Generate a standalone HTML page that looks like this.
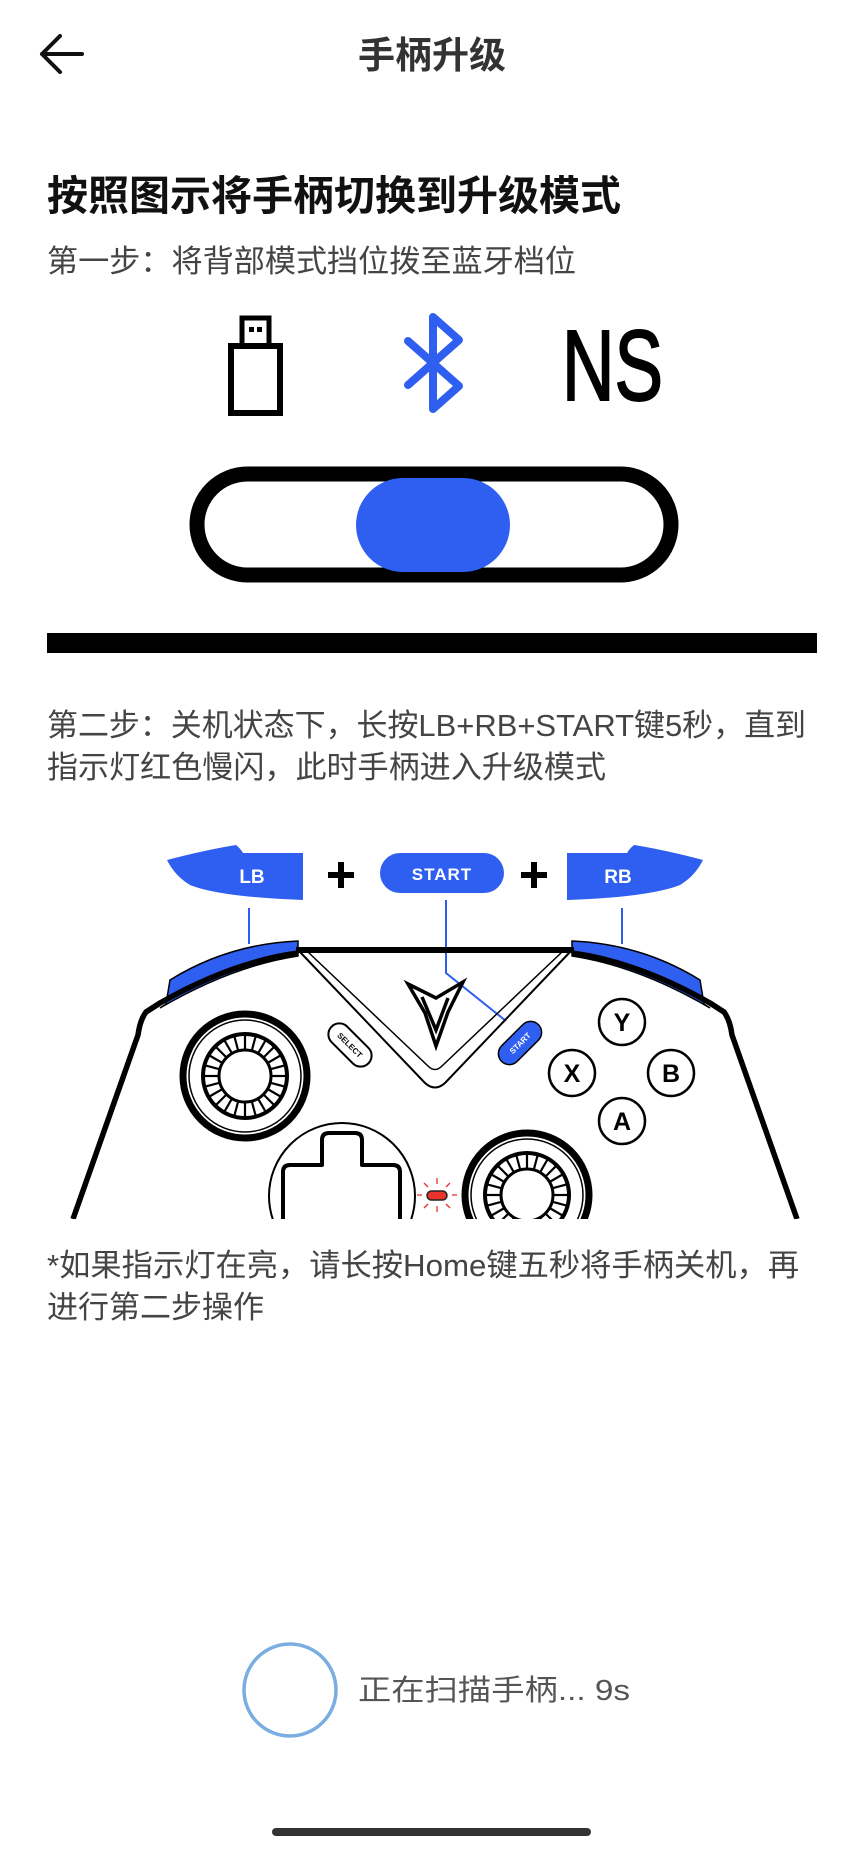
<!DOCTYPE html>
<html><head><meta charset="utf-8"><style>
html,body{margin:0;padding:0;background:#fff;width:864px;height:1850px;overflow:hidden}
svg{display:block}
text{font-family:"Liberation Sans","Noto Sans CJK SC",sans-serif}
</style></head><body>
<svg width="864" height="1850" viewBox="0 0 864 1850" xmlns="http://www.w3.org/2000/svg">
<defs>
<clipPath id="cl"><rect x="0" y="880" width="864" height="339"/></clipPath>
<g id="stick">
<circle r="62" fill="#fff" stroke="#000" stroke-width="7"/>
<circle r="56" fill="none" stroke="#000" stroke-width="1.5"/>
<circle r="42" fill="none" stroke="#000" stroke-width="4"/>
<circle r="26" fill="none" stroke="#000" stroke-width="3"/>
<g stroke="#000" stroke-width="2.2">
<line x1="0" y1="-26" x2="0" y2="-42"/><line x1="0" y1="-26" x2="0" y2="-42" transform="rotate(15)"/><line x1="0" y1="-26" x2="0" y2="-42" transform="rotate(30)"/><line x1="0" y1="-26" x2="0" y2="-42" transform="rotate(45)"/><line x1="0" y1="-26" x2="0" y2="-42" transform="rotate(60)"/><line x1="0" y1="-26" x2="0" y2="-42" transform="rotate(75)"/><line x1="0" y1="-26" x2="0" y2="-42" transform="rotate(90)"/><line x1="0" y1="-26" x2="0" y2="-42" transform="rotate(105)"/><line x1="0" y1="-26" x2="0" y2="-42" transform="rotate(120)"/><line x1="0" y1="-26" x2="0" y2="-42" transform="rotate(135)"/><line x1="0" y1="-26" x2="0" y2="-42" transform="rotate(150)"/><line x1="0" y1="-26" x2="0" y2="-42" transform="rotate(165)"/><line x1="0" y1="-26" x2="0" y2="-42" transform="rotate(180)"/><line x1="0" y1="-26" x2="0" y2="-42" transform="rotate(195)"/><line x1="0" y1="-26" x2="0" y2="-42" transform="rotate(210)"/><line x1="0" y1="-26" x2="0" y2="-42" transform="rotate(225)"/><line x1="0" y1="-26" x2="0" y2="-42" transform="rotate(240)"/><line x1="0" y1="-26" x2="0" y2="-42" transform="rotate(255)"/><line x1="0" y1="-26" x2="0" y2="-42" transform="rotate(270)"/><line x1="0" y1="-26" x2="0" y2="-42" transform="rotate(285)"/><line x1="0" y1="-26" x2="0" y2="-42" transform="rotate(300)"/><line x1="0" y1="-26" x2="0" y2="-42" transform="rotate(315)"/><line x1="0" y1="-26" x2="0" y2="-42" transform="rotate(330)"/><line x1="0" y1="-26" x2="0" y2="-42" transform="rotate(345)"/>
</g>
</g>
<g id="side">
<path d="M166,1004 L170,980 Q228,944 298,941 L298,956 Q232,966 160,1008 Z" fill="#2f5ff0" stroke="#000" stroke-width="1.5"/>
<path d="M298,953 Q232,962 160,1003 L146,1012 Q140,1020 138,1035 L73,1219" fill="none" stroke="#000" stroke-width="5.5" stroke-linejoin="round"/>
</g>
</defs>

<!-- header -->
<path d="M82,54 L42,54 M60,36 L42,54 L60,72" fill="none" stroke="#111" stroke-width="4" stroke-linecap="round" stroke-linejoin="round"/>
<text x="432" y="68" font-size="37" font-weight="bold" fill="#333" text-anchor="middle">手柄升级</text>

<text x="47" y="210" font-size="41" font-weight="bold" fill="#111">按照图示将手柄切换到升级模式</text>
<text x="47" y="272" font-size="31" fill="#444" textLength="529" lengthAdjust="spacingAndGlyphs">第一步：将背部模式挡位拨至蓝牙档位</text>

<!-- usb -->
<rect x="231" y="346" width="49" height="67" fill="none" stroke="#000" stroke-width="6"/>
<rect x="242" y="318" width="27" height="28" fill="none" stroke="#000" stroke-width="5"/>
<rect x="249" y="327" width="5" height="5" fill="#000"/><rect x="257" y="327" width="5" height="5" fill="#000"/>
<!-- bluetooth -->
<polyline points="408,341 459,386 433,409 433,317 459,340 408,385" fill="none" stroke="#2f5ff0" stroke-width="8" stroke-linecap="round" stroke-linejoin="round"/>
<!-- NS -->
<text x="562" y="400" font-size="100" fill="#000" stroke="#000" stroke-width="2" textLength="101" lengthAdjust="spacingAndGlyphs">NS</text>

<!-- switch -->
<rect x="197" y="474" width="474" height="101" rx="50.5" fill="#fff" stroke="#000" stroke-width="15"/>
<rect x="356" y="478" width="154" height="94" rx="47" fill="#2f5ff0"/>
<rect x="47" y="633" width="770" height="20" fill="#000"/>

<text x="47" y="736" font-size="31" fill="#444" textLength="759" lengthAdjust="spacingAndGlyphs">第二步：关机状态下，长按LB+RB+START键5秒，直到</text>
<text x="47" y="778" font-size="31" fill="#444" textLength="559" lengthAdjust="spacingAndGlyphs">指示灯红色慢闪，此时手柄进入升级模式</text>

<!-- top labels -->
<path d="M167,860 Q205,850 236,845 Q240,848 243,853 L303,853 L303,900 Q220,897 190,885 Q175,876 167,860 Z" fill="#2f5ff0"/>
<text x="252" y="883" font-size="19" font-weight="bold" fill="#fff" text-anchor="middle">LB</text>
<g transform="translate(870,0) scale(-1,1)">
<path d="M167,860 Q205,850 236,845 Q240,848 243,853 L303,853 L303,900 Q220,897 190,885 Q175,876 167,860 Z" fill="#2f5ff0"/>
</g>
<text x="618" y="883" font-size="19" font-weight="bold" fill="#fff" text-anchor="middle">RB</text>
<rect x="380" y="853" width="124" height="40" rx="20" fill="#2f5ff0"/>
<text x="442" y="880" font-size="17" font-weight="bold" fill="#fff" text-anchor="middle" letter-spacing="1">START</text>
<path d="M341,862 V888 M328,875 H354" stroke="#000" stroke-width="6"/>
<path d="M534,862 V888 M521,875 H547" stroke="#000" stroke-width="6"/>

<!-- connectors -->
<g stroke="#2f5ff0" stroke-width="2" fill="none">
<line x1="249" y1="908" x2="249" y2="944"/>
<line x1="622" y1="908" x2="622" y2="944"/>
<polyline points="446,900 446,973 506,1021"/>
</g>

<!-- controller -->
<g clip-path="url(#cl)">
<use href="#side"/>
<use href="#side" transform="translate(870,0) scale(-1,1)"/>
<line x1="296" y1="950" x2="574" y2="950" stroke="#000" stroke-width="6"/>
<path d="M300,952 L425,1083 Q435,1092 445,1083 L570,952" fill="none" stroke="#000" stroke-width="2"/>
<path d="M308,952 L428,1066 Q435,1073 442,1066 L562,952" fill="none" stroke="#000" stroke-width="1.5"/>
<!-- logo -->
<path d="M408,984 L436,998 L463,982 L448,1012 L436,1046 L425,1013 Z M422,997 L436,1030 L448,998" fill="none" stroke="#000" stroke-width="3.5" stroke-linejoin="miter"/>
<!-- select / start small -->
<g transform="translate(350,1045) rotate(45)">
<rect x="-26" y="-11" width="52" height="22" rx="11" fill="#fff" stroke="#000" stroke-width="2"/>
<text x="0" y="3" font-size="8" font-weight="bold" text-anchor="middle">SELECT</text>
</g>
<g transform="translate(520,1043) rotate(-45)">
<rect x="-26" y="-11" width="52" height="22" rx="11" fill="#2f5ff0" stroke="#000" stroke-width="1.5"/>
<text x="0" y="3" font-size="8" font-weight="bold" fill="#fff" text-anchor="middle">START</text>
</g>
<!-- face buttons -->
<g fill="#fff" stroke="#000" stroke-width="2.5">
<circle cx="622" cy="1022" r="23"/><circle cx="572" cy="1073" r="23"/><circle cx="671" cy="1073" r="23"/><circle cx="622" cy="1121" r="23"/>
</g>
<g font-size="25" font-weight="bold" text-anchor="middle" fill="#000">
<text x="622" y="1031">Y</text><text x="572" y="1082">X</text><text x="671" y="1082">B</text><text x="622" y="1130">A</text>
</g>
<use href="#stick" x="245" y="1076"/>
<circle cx="342" cy="1196" r="73" fill="#fff" stroke="#000" stroke-width="2"/>
<path d="M322,1140 Q322,1133 329,1133 L355,1133 Q362,1133 362,1140 L362,1165 L393,1165 Q400,1165 400,1172 L400,1218 Q400,1225 393,1225 L362,1225 L362,1260 L322,1260 L322,1225 L290,1225 Q283,1225 283,1218 L283,1172 Q283,1165 290,1165 L322,1165 Z" fill="none" stroke="#000" stroke-width="4" stroke-linejoin="round"/>
<use href="#stick" x="527" y="1195"/>
<!-- led -->
<rect x="427" y="1191" width="20" height="9" rx="4.5" fill="#e8322a" stroke="#222" stroke-width="1.5"/>
<g stroke="#e8322a" stroke-width="1.3">
<line x1="437" y1="1178" x2="437" y2="1184"/><line x1="437" y1="1206" x2="437" y2="1212"/><line x1="417" y1="1195" x2="422" y2="1195"/><line x1="452" y1="1195" x2="457" y2="1195"/>
<line x1="424" y1="1183" x2="428" y2="1187"/><line x1="450" y1="1183" x2="446" y2="1187"/><line x1="424" y1="1208" x2="428" y2="1204"/><line x1="450" y1="1208" x2="446" y2="1204"/>
</g>
</g>

<text x="47" y="1276" font-size="31" fill="#444" textLength="752" lengthAdjust="spacingAndGlyphs">*如果指示灯在亮，请长按Home键五秒将手柄关机，再</text>
<text x="47" y="1318" font-size="31" fill="#444">进行第二步操作</text>

<!-- scanning -->
<circle cx="290" cy="1690" r="46" fill="none" stroke="#7aaee0" stroke-width="3.5"/>
<text x="358" y="1700" font-size="29" fill="#555" textLength="272" lengthAdjust="spacingAndGlyphs">正在扫描手柄... 9s</text>
<rect x="272" y="1828" width="319" height="8" rx="4" fill="#333"/>
</svg>
</body></html>
